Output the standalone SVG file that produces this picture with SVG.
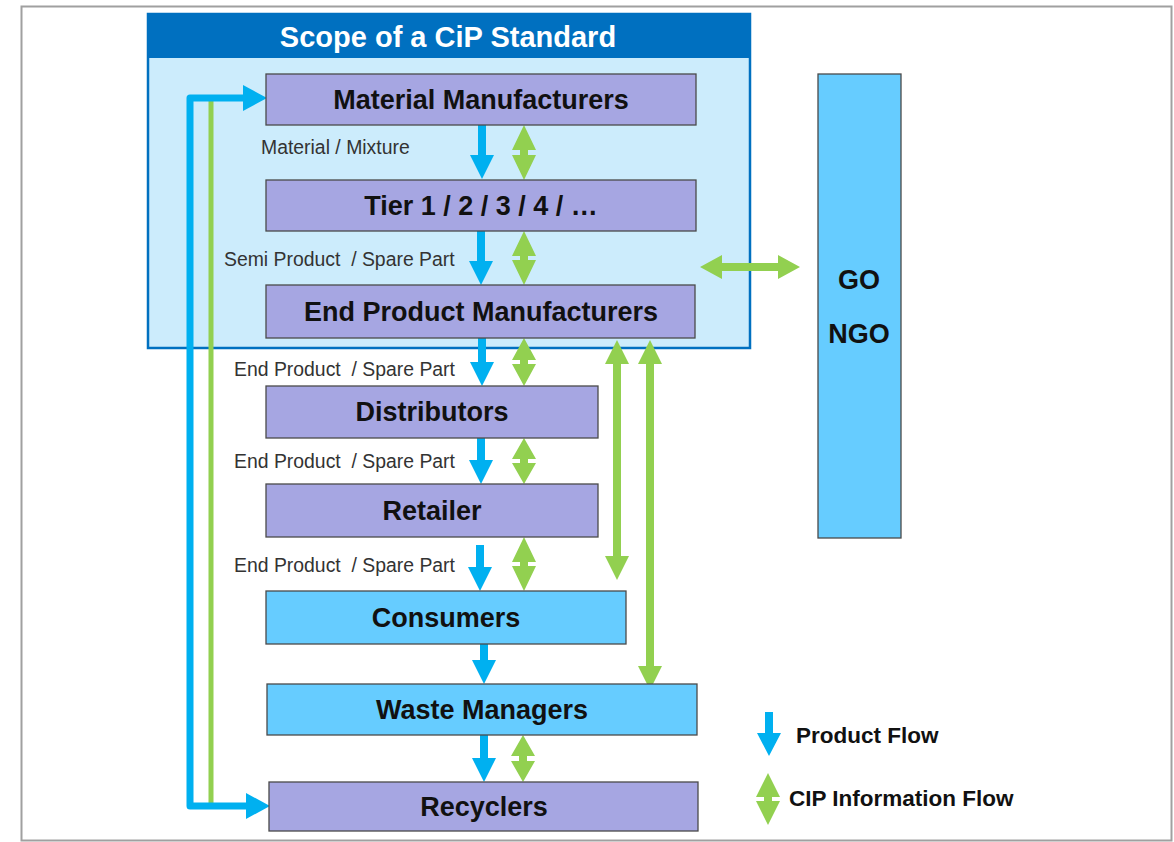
<svg xmlns="http://www.w3.org/2000/svg" width="1174" height="842" viewBox="0 0 1174 842">
<style>
.page{fill:#fff;stroke:#a0a0a0;stroke-width:2}
.scope{fill:#CCECFC;stroke:#0070C0;stroke-width:2.5}
.scopehead{fill:#0070C0}
.title{font-family:"Liberation Sans",Arial,sans-serif;font-weight:bold;font-size:29px;fill:#fff;text-anchor:middle}
.lav{fill:#A6A6E2;stroke:#4a4a4a;stroke-width:1.3}
.sky{fill:#66CCFF;stroke:#4a4a4a;stroke-width:1.3}
.nt{font-family:"Liberation Sans",Arial,sans-serif;font-weight:bold;font-size:27px;fill:#111;text-anchor:middle}
.lbl{font-family:"Liberation Sans",Arial,sans-serif;font-size:19.4px;fill:#333;white-space:pre}
.leg{font-family:"Liberation Sans",Arial,sans-serif;font-weight:bold;font-size:22.5px;fill:#111}
.pf{fill:#00B0F0}
.cf{fill:#92D050}
.bl{fill:none;stroke:#00B0F0;stroke-width:7;stroke-linejoin:round}
.gl{fill:none;stroke:#92D050;stroke-width:5}
</style>
<rect x="0" y="0" width="1174" height="842" fill="#fff"/>
<rect class="page" x="21.5" y="6.5" width="1150" height="834"/>
<g id="scope">
<rect class="scope" x="148" y="14" width="602" height="334"/>
<rect class="scopehead" x="148" y="14" width="602" height="44"/>
<text class="title" x="448" y="47">Scope of a CiP Standard</text>
</g>
<g id="connectors">
<path class="gl" d="M211,101 L211,804"/>
<path class="bl" d="M246,98 L190,98 L190,806 L249,806"/>
<polygon class="pf" points="243,85 267,98 243,111"/>
<polygon class="pf" points="246,793 270,806 246,819"/>
<path class="pf" d="M478,125 L486,125 L486,155 L494,155 L482,179 L470,155 L478,155 Z"/>
<path class="pf" d="M477,231 L485,231 L485,261 L493,261 L481,285 L469,261 L477,261 Z"/>
<path class="pf" d="M478,338 L486,338 L486,362 L494,362 L482,386 L470,362 L478,362 Z"/>
<path class="pf" d="M477,438 L485,438 L485,460 L493,460 L481,484 L469,460 L477,460 Z"/>
<path class="pf" d="M476,545 L484,545 L484,567 L492,567 L480,591 L468,567 L476,567 Z"/>
<path class="pf" d="M480,644 L488,644 L488,660 L496,660 L484,684 L472,660 L480,660 Z"/>
<path class="pf" d="M480,735 L488,735 L488,758 L496,758 L484,782 L472,758 L480,758 Z"/>
<path class="cf" d="M524,125 L536,150 L528,150 L528,155 L536,155 L524,180 L512,155 L520,155 L520,150 L512,150 Z"/>
<path class="cf" d="M524,231 L536,256 L528,256 L528,260 L536,260 L524,285 L512,260 L520,260 L520,256 L512,256 Z"/>
<path class="cf" d="M524,338 L536,360 L528,360 L528,364 L536,364 L524,386 L512,364 L520,364 L520,360 L512,360 Z"/>
<path class="cf" d="M524,438 L536,459 L528,459 L528,463 L536,463 L524,484 L512,463 L520,463 L520,459 L512,459 Z"/>
<path class="cf" d="M524,537 L536,562 L528,562 L528,566 L536,566 L524,591 L512,566 L520,566 L520,562 L512,562 Z"/>
<path class="cf" d="M523,735 L535,756 L527,756 L527,761 L535,761 L523,782 L511,761 L519,761 L519,756 L511,756 Z"/>
<path class="cf" d="M617,340 L629,364 L621,364 L621,556 L629,556 L617,580 L605,556 L613,556 L613,364 L605,364 Z"/>
<path class="cf" d="M650,340 L662,364 L654,364 L654,666 L662,666 L650,690 L638,666 L646,666 L646,364 L638,364 Z"/>
<path class="cf" d="M700,267 L722,255 L722,263 L778,263 L778,255 L800,267 L778,279 L778,271 L722,271 L722,279 Z"/>
</g>
<g id="material-manufacturers">
<rect class="lav" x="266" y="74" width="430" height="51"/>
<text class="nt" x="481" y="109">Material Manufacturers</text>
</g>
<g id="tier">
<rect class="lav" x="266" y="180" width="430" height="51"/>
<text class="nt" x="481" y="215">Tier 1 / 2 / 3 / 4 / …</text>
</g>
<g id="end-product-manufacturers">
<rect class="lav" x="266" y="285" width="429" height="53"/>
<text class="nt" x="481" y="321">End Product Manufacturers</text>
</g>
<g id="distributors">
<rect class="lav" x="266" y="386" width="332" height="52"/>
<text class="nt" x="432" y="421">Distributors</text>
</g>
<g id="retailer">
<rect class="lav" x="266" y="484" width="332" height="53"/>
<text class="nt" x="432" y="520">Retailer</text>
</g>
<g id="consumers">
<rect class="sky" x="266" y="591" width="360" height="53"/>
<text class="nt" x="446" y="627">Consumers</text>
</g>
<g id="waste-managers">
<rect class="sky" x="267" y="684" width="430" height="51"/>
<text class="nt" x="482" y="719">Waste Managers</text>
</g>
<g id="recyclers">
<rect class="lav" x="269" y="782" width="429" height="49"/>
<text class="nt" x="484" y="816">Recyclers</text>
</g>
<g id="go-ngo">
<rect class="sky" x="818" y="74" width="83" height="464"/>
<text class="nt" x="859" y="289">GO</text>
<text class="nt" x="859" y="343">NGO</text>
</g>
<g id="labels">
<text class="lbl" x="261" y="154">Material / Mixture</text>
<text class="lbl" x="224" y="266">Semi Product  / Spare Part</text>
<text class="lbl" x="234" y="376">End Product  / Spare Part</text>
<text class="lbl" x="234" y="468">End Product  / Spare Part</text>
<text class="lbl" x="234" y="572">End Product  / Spare Part</text>
</g>
<g id="legend">
<path class="pf" d="M765,712 L773,712 L773,733 L781,733 L769,756 L757,733 L765,733 Z"/>
<text class="leg" x="796" y="743">Product Flow</text>
<path class="cf" d="M768,773 L780,797 L772,797 L772,801 L780,801 L768,825 L756,801 L764,801 L764,797 L756,797 Z"/>
<text class="leg" x="789" y="806">CIP Information Flow</text>
</g>
</svg>
